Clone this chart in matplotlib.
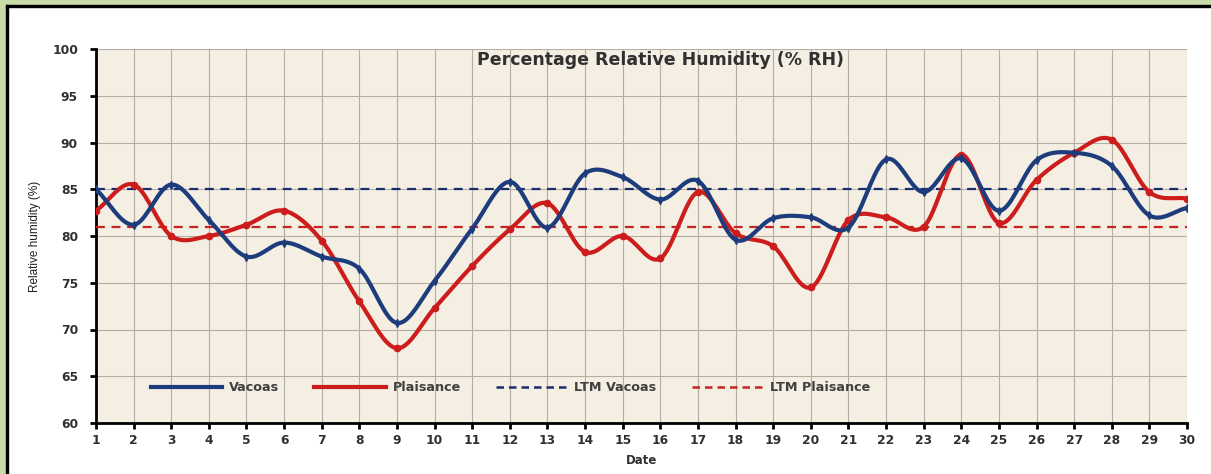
import numpy as np
import matplotlib
matplotlib.use("Agg")
import matplotlib.pyplot as plt
from matplotlib.patches import Rectangle
from matplotlib.lines import Line2D

dates = list(range(1, 31))
vacoas = [85.0, 81.2, 85.5, 81.7, 77.8, 79.3, 77.8, 76.5, 70.7, 75.2,
          80.8, 85.8, 80.9, 86.7, 86.3, 83.9, 85.9, 79.6, 81.9, 82.0,
          80.9, 88.2, 84.7, 88.3, 82.7, 88.1, 88.9, 87.5, 82.2, 83.0]
plaisance = [82.7, 85.5, 80.0, 80.0, 81.2, 82.7, 79.5, 73.0, 68.0, 72.3,
             76.8, 80.7, 83.5, 78.3, 80.0, 77.6, 84.7, 80.3, 78.9, 74.5,
             81.7, 82.0, 81.0, 88.7, 81.4, 86.0, 88.9, 90.3, 84.7, 84.0]
ltm_vacoas = 85.0
ltm_plaisance = 81.0
yticks = [60, 65, 70, 75, 80, 85, 90, 95, 100]

BLUE = "#1c3c7c"
RED = "#cc1c1c"


def smooth(x, y, n=20):
    x = np.asarray(x, float)
    y = np.asarray(y, float)
    px = np.concatenate([[2 * x[0] - x[1]], x, [2 * x[-1] - x[-2]]])
    py = np.concatenate([[2 * y[0] - y[1]], y, [2 * y[-1] - y[-2]]])
    xs, ys = [], []
    t = np.linspace(0, 1, n, endpoint=False)
    for i in range(1, len(px) - 2):
        p0, p1, p2, p3 = py[i - 1], py[i], py[i + 1], py[i + 2]
        q0, q1, q2, q3 = px[i - 1], px[i], px[i + 1], px[i + 2]
        def cr(a0, a1, a2, a3):
            return 0.5 * ((2 * a1) + (-a0 + a2) * t + (2 * a0 - 5 * a1 + 4 * a2 - a3) * t ** 2
                          + (-a0 + 3 * a1 - 3 * a2 + a3) * t ** 3)
        xs.append(cr(q0, q1, q2, q3))
        ys.append(cr(p0, p1, p2, p3))
    xs.append([x[-1]])
    ys.append([y[-1]])
    return np.concatenate(xs), np.concatenate(ys)


fig = plt.figure(figsize=(12.11, 4.74), dpi=100)
fig.patch.set_facecolor("white")
W, H = 1211, 474
# green frame + black line
fig.patches.append(Rectangle((0, 0), 6 / W, 1, transform=fig.transFigure, color="#c9dca8", zorder=0))
fig.patches.append(Rectangle((0, 1 - 5 / H), 1, 5 / H, transform=fig.transFigure, color="#c9dca8", zorder=0))
fig.patches.append(Rectangle((6 / W, 0), 2 / W, 1 - 5 / H, transform=fig.transFigure, color="black", zorder=1))
fig.patches.append(Rectangle((6 / W, 1 - 7 / H), 1 - 6 / W, 2 / H, transform=fig.transFigure, color="black", zorder=1))

ax = fig.add_axes([96 / W, (474 - 423) / H, (1187 - 96) / W, (423 - 49) / H])
ax.set_facecolor("#f4eee3")

ax.axhline(ltm_vacoas, color="#1a2d6c", lw=1.6, ls=(0, (4, 3)), zorder=3)
ax.axhline(ltm_plaisance, color="#c42424", lw=1.6, ls=(0, (4, 3)), zorder=3)

sx, sy = smooth(dates, plaisance)
ax.plot(sx, sy, color=RED, lw=3.0, zorder=4, solid_capstyle="round")
ax.plot(dates, plaisance, ls="none", marker="o", ms=4.5, color=RED, zorder=5)
sx, sy = smooth(dates, vacoas)
ax.plot(sx, sy, color=BLUE, lw=3.0, zorder=6, solid_capstyle="round")
ax.plot(dates, vacoas, ls="none", marker="d", ms=4, color=BLUE, zorder=7)

ax.set_xlim(1, 30)
ax.set_ylim(60, 100)
ax.set_xticks(dates)
ax.set_yticks(yticks)
ax.grid(True, color="#b3ada3", lw=0.8)
ax.set_axisbelow(True)
for s in ["top", "right"]:
    ax.spines[s].set_visible(False)
for s in ["left", "bottom"]:
    ax.spines[s].set_linewidth(2)
    ax.spines[s].set_color("black")
ax.tick_params(axis="both", length=4, width=2, color="black", direction="out",
               labelsize=8.8, labelcolor="#303030")
ax.tick_params(axis="y", pad=9)
ax.tick_params(axis="x", pad=4)
for lab in ax.get_xticklabels() + ax.get_yticklabels():
    lab.set_fontweight("bold")

ax.set_xlabel("Date", fontsize=8.5, fontweight="bold", color="#303030", labelpad=5)
ax.set_ylabel("Relative humidity (%)", fontsize=8.5, color="#202020", labelpad=8,
              family="Liberation Sans")
ax.text(0.517, 0.995, "Percentage Relative Humidity (% RH)", transform=ax.transAxes,
        ha="center", va="top", fontsize=12.5, fontweight="bold", color="#303030")

handles = [
    Line2D([], [], color=BLUE, lw=3),
    Line2D([], [], color=RED, lw=3),
    Line2D([], [], color="#1a2d6c", lw=1.8, ls=(0, (3, 2))),
    Line2D([], [], color="#c42424", lw=1.8, ls=(0, (3, 2))),
]
leg = ax.legend(handles, ["Vacoas", "Plaisance", "LTM Vacoas", "LTM Plaisance"],
                loc="center", bbox_to_anchor=(0.38, 0.094), ncol=4, frameon=False,
                handlelength=5.6, columnspacing=2.8, handletextpad=0.5,
                prop={"weight": "bold", "size": 9.2})
for t in leg.get_texts():
    t.set_color("#404040")

fig.savefig("out.png", dpi=100)
